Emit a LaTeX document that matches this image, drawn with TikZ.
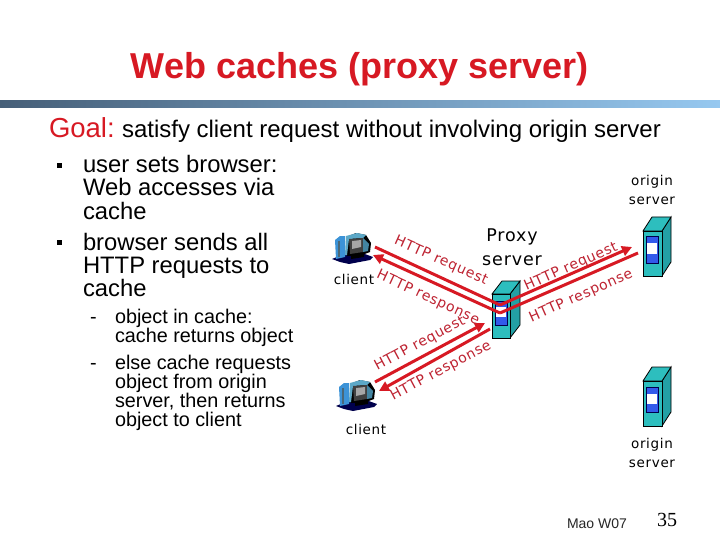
\documentclass[tikz,border=0pt]{standalone}
\usepackage{fontspec}
\setmainfont{Liberation Sans}
\newfontfamily\handfont[LetterSpace=5]{DejaVu Sans}
\newfontfamily\timesfont{Liberation Serif}
\usetikzlibrary{arrows.meta}
\definecolor{slidered}{RGB}{215,25,35}
\definecolor{linered}{RGB}{215,25,35}
\definecolor{labelred}{RGB}{190,35,50}
\definecolor{teal}{RGB}{45,190,190}
\definecolor{tealdk}{RGB}{35,160,165}
\definecolor{winblue}{RGB}{50,90,235}
\definecolor{barleft}{RGB}{70,95,120}
\definecolor{barright}{RGB}{150,200,240}
\tikzset{
  txt/.style={anchor=base west,inner sep=0pt,outer sep=0pt},
  body/.style={txt,font=\fontsize{23.8}{24}\selectfont},
  sub/.style={txt,font=\fontsize{19.8}{20}\selectfont},
  hand/.style={anchor=base,inner sep=0pt,font=\handfont\fontsize{13.5}{13.5}\selectfont},
  handbig/.style={anchor=base,inner sep=0pt,font=\handfont\fontsize{17.5}{17.5}\selectfont},
  httplabel/.style={inner sep=0pt,text=labelred,font=\handfont\fontsize{14}{14}\selectfont},
  flow/.style={draw=linered,line width=3pt,-{Triangle[length=10pt,width=10pt]}},
  serverface/.style={draw=black,line width=0.8pt,fill=teal},
}
\newcommand{\serverbox}[7]{% x y w h dx dy name
  \fill[tealdk,draw=black,line width=0.8pt] (#1+#3,#2)--(#1+#3+#5,#2-#6)--(#1+#3+#5,#2+#4-#6)--(#1+#3,#2+#4)--cycle;
  \fill[teal,draw=black,line width=0.8pt] (#1,#2)--(#1+#5,#2-#6)--(#1+#3+#5,#2-#6)--(#1+#3,#2)--cycle;
  \node[serverface,anchor=north west,minimum width=#3pt,minimum height=#4pt,inner sep=0pt,outer sep=0pt] (#7) at (#1,#2) {};
}
\newcommand{\serverwin}[4]{% x y w h
  \fill[winblue,draw=black!70!blue,line width=0.8pt] (#1,#2) rectangle (#1+#3,#2+#4);
  \fill[white] (#1+1.2,#2+0.27*#4) rectangle (#1+#3-1.2,#2+0.68*#4);
}
\newcommand{\computer}[2]{%
  \begin{scope}[shift={(#1,#2)}]
    \fill[black!70!blue] (0,26)--(12,21)--(30,20)--(41,24)--(38,27)--(17,31)--(8,29)--cycle;
    \fill[black] (19,22) -- (32,20) -- (32,24) -- (19,26) -- cycle;
    \fill[cyan!65!blue!80!white] (3,7)--(8,3)--(13,3)--(13,24)--(4,26)--cycle;
    \fill[black!60!cyan] (6,8) rectangle (8,24);
    \fill[black] (14,4)--(24,0)--(34,2)--(39,10)--(38,19)--(30,22)--(15,23)--cycle;
    \fill[cyan!55!gray] (14,3)--(25,0)--(34,2)--(31,5)--(17,6)--(15,22)--(13,22)--cycle;
    \fill[black!75] (17,6)--(31,5)--(31,19)--(18,21)--cycle;
    \fill[gray!70] (20,8)--(29,7)--(29,14)--(20,16)--cycle;
    \fill[cyan!60!black] (31,5)--(37,11)--(36,18)--(31,19)--cycle;
  \end{scope}%
}
\begin{document}
\begin{tikzpicture}[x=1pt,y=-1pt]
\useasboundingbox (0,0) rectangle (720,540);
\fill[white] (0,0) rectangle (720,540);
\shade[left color=barleft,right color=barright] (0,101) rectangle (720,108);
\node[anchor=base,inner sep=0pt,text=slidered,font=\bfseries\fontsize{36}{36}\selectfont] (title) at (359.5,79) {Web caches (proxy server)};
\node[txt,font=\fontsize{27.5}{28}\selectfont,text=slidered] (goal) at (49,138) {Goal:};
\node[txt,font=\fontsize{24}{24}\selectfont] (goaltext) at (122,138) {satisfy client request without involving origin server};
\fill[black] (57,163) rectangle (62,168);
\fill[black] (57,240) rectangle (62,245);
\node[body] (b1) at (83,173) {user sets browser:};
\node[body] (b2) at (83,196) {Web accesses via};
\node[body] (b3) at (83,219) {cache};
\node[body] (b4) at (83,250) {browser sends all};
\node[body] (b5) at (83,273) {HTTP requests to};
\node[body] (b6) at (83,296) {cache};
\node[sub] (d1) at (90,323) {-};
\node[sub] (s1) at (115,323) {object in cache:};
\node[sub] (s2) at (115,342) {cache returns object};
\node[sub] (d2) at (90,369) {-};
\node[sub] (s3) at (115,369) {else cache requests};
\node[sub] (s4) at (115,388) {object from origin};
\node[sub] (s5) at (115,407) {server, then returns};
\node[sub] (s6) at (115,426) {object to client};
% machines
\computer{332}{233}
\computer{336}{380}
\serverbox{492}{294}{18}{44}{10}{13}{proxy}
\serverwin{495}{301}{12}{24}
\serverbox{643}{231}{19}{45}{9}{14}{originA}
\serverwin{646}{236}{12}{27}
\serverbox{643}{381}{19}{45}{9}{14}{originB}
\serverwin{646}{387}{12}{25}
% labels
\node[hand] (oa1) at (652,186) {origin};
\node[hand] (oa2) at (652,205) {server};
\node[hand] (ob1) at (652,448) {origin};
\node[hand] (ob2) at (652,467) {server};
\node[handbig] (px1) at (512,241) {Proxy};
\node[handbig] (px2) at (512,265) {server};
\node[hand] (cl1) at (354,284) {client};
\node[hand] (cl2) at (366,434) {client};
% connector ends
\coordinate (aReqS) at (375,247);
\coordinate (aResT) at (373,255);
\coordinate (pA1) at (500,305);
\coordinate (pA2) at (500,313);
\coordinate (oReqT) at (632,247);
\coordinate (oResS) at (638,253);
\coordinate (bReqS) at (375,382);
\coordinate (bResT) at (379,391);
\coordinate (pB1) at (485,323);
\coordinate (pB2) at (490,329);
\draw[flow,-] (aReqS) -- (pA1);
\draw[flow] (pA1) -- (oReqT);
\draw[flow,-] (oResS) -- (pA2);
\draw[flow] (pA2) -- (aResT);
\draw[flow] (bReqS) -- (pB1);
\draw[flow] (pB2) -- (bResT);
% flow labels
\node[httplabel,rotate=-24] (l1) at (441,261) {HTTP request};
\node[httplabel,rotate=-25] (l2) at (428,298) {HTTP response};
\node[httplabel,rotate=24] (l3) at (571,267) {HTTP request};
\node[httplabel,rotate=24] (l4) at (581,296) {HTTP response};
\node[httplabel,rotate=28] (l5) at (420,344) {HTTP request};
\node[httplabel,rotate=28] (l6) at (441,371) {HTTP response};
% footer
\node[txt,font=\fontsize{14}{14}\selectfont,text=black!85] (foot) at (567,528) {Mao W07};
\node[txt,font=\timesfont\fontsize{20}{20}\selectfont] (num) at (657,526) {35};
\end{tikzpicture}
\end{document}
